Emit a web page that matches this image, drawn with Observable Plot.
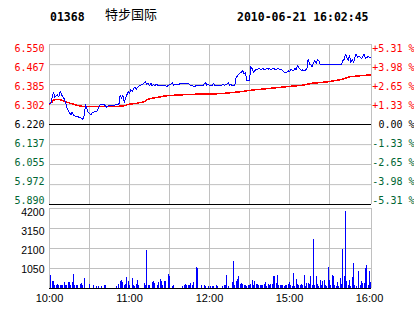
<!DOCTYPE html>
<html><head><meta charset="utf-8">
<script src="https://cdn.jsdelivr.net/npm/d3@7"></script>
<script src="https://cdn.jsdelivr.net/npm/@observablehq/plot@0.6"></script>
<style>
html,body{margin:0;padding:0;background:#fff;}
#wrap{position:relative;width:414px;height:314px;overflow:hidden;background:#fff;}
.hd{position:absolute;white-space:pre;color:#000;}
.mono{font-family:"DejaVu Sans Mono",monospace;font-weight:bold;font-size:11.5px;line-height:12px;top:11px;}
.cjk{font-family:"Noto Sans CJK SC",sans-serif;font-size:13px;line-height:14px;top:7px;left:105px;}
#p,#v{position:absolute;left:0;}
#p{top:0;}
#v{top:206px;}
</style></head><body>
<div id="wrap">
  <div class="hd mono" id="code" style="left:50px"></div>
  <div class="hd cjk" id="name"></div>
  <div class="hd mono" id="stamp" style="left:237px"></div>
  <div id="p"></div>
  <div id="v"></div>
</div>
<script>
// ---- header text ----
const stockCode = "01368";
const stockName = "特步国际";
const stampText = "2010-06-21 16:02:45";

// ---- axes ----
const prevClose = 6.220;
const priceTicks = [6.550, 6.467, 6.385, 6.302, 6.220, 6.137, 6.055, 5.972, 5.890];
const priceLabels = ["6.550","6.467","6.385","6.302","6.220","6.137","6.055","5.972","5.890"];
const pctLabels = ["+5.31 %","+3.98 %","+2.65 %","+1.33 %","0.00 %","-1.33 %","-2.65 %","-3.98 %","-5.31 %"];
const volTicks = [1050, 2100, 3150, 4200];
const volLabels = ["1050","2100","3150","4200"];
// minutes of trading since 10:00 (12:30 joins 14:30)
const timeTicks = [0, 60, 120, 180, 240];
const timeLabels = ["10:00","11:00","12:00","15:00","16:00"];
const gridMinutes = [0, 30, 60, 90, 120, 150, 180, 210];
const lastMinute = 241.5;

// ---- price (blue) ----
const priceMin = [0,1,2,3,4,6,7,8,10,11,12,13,14,16,17,18,20,21,22,23,25,26,27,28,29,31,32,33,35,36,37,38,41,43,44,47,50,52,53,54,55,56,58,59,60,61,62,63,64,65,66,68,70,72,73,74,75,76,77,78,79,80,82,84,87,88,89,91,92,93,94,97,99,102,104,106,107,109,110,113,115,117,118,119,121,122,123,124,125,128,129,130,131,133,134,135,136,137,139,140,141,143,144,145,146,147,148,149,150,151,152,153,154,155,156,157,159,160,161,163,164,165,166,168,169,170,171,173,174,175,176,178,179,180,181,183,184,185,186,188,189,190,191,193,194,195,196,197,198,199,200,201,202,203,204,212,219,220,221,222,223,224,225,226,227,228,229,230,231,232,234,235,236,237,238,239,240,241];
const price = [6.305,6.305,6.333,6.351,6.333,6.342,6.333,6.356,6.333,6.326,6.312,6.291,6.278,6.260,6.271,6.257,6.253,6.254,6.250,6.250,6.241,6.257,6.301,6.285,6.271,6.260,6.268,6.271,6.274,6.278,6.291,6.301,6.301,6.291,6.298,6.298,6.301,6.301,6.342,6.326,6.342,6.312,6.342,6.356,6.348,6.364,6.356,6.367,6.374,6.364,6.373,6.382,6.386,6.396,6.386,6.390,6.380,6.390,6.380,6.386,6.380,6.386,6.380,6.380,6.380,6.376,6.382,6.386,6.393,6.382,6.386,6.386,6.390,6.390,6.390,6.380,6.380,6.376,6.382,6.382,6.380,6.393,6.382,6.385,6.380,6.382,6.390,6.382,6.380,6.380,6.380,6.386,6.382,6.386,6.393,6.382,6.386,6.380,6.382,6.414,6.421,6.432,6.437,6.442,6.428,6.435,6.400,6.400,6.400,6.459,6.450,6.435,6.442,6.448,6.446,6.451,6.446,6.451,6.446,6.451,6.448,6.451,6.446,6.451,6.448,6.446,6.451,6.448,6.446,6.442,6.435,6.435,6.442,6.437,6.446,6.442,6.451,6.446,6.462,6.448,6.442,6.446,6.442,6.448,6.489,6.469,6.465,6.459,6.476,6.483,6.473,6.489,6.483,6.469,6.469,6.469,6.469,6.483,6.489,6.510,6.496,6.483,6.505,6.476,6.489,6.476,6.496,6.510,6.496,6.503,6.492,6.500,6.510,6.492,6.496,6.503,6.496,6.496];

// ---- average price (red) ----
const avgMin = [0,2,3,5,8,11,13,16,20,23,27,38,50,53,57,59,65,71,74,80,87,97,110,120,132,143,152,165,178,190,197,210,220,225,233,241];
const avgPrice = [6.304,6.313,6.321,6.323,6.322,6.317,6.312,6.307,6.300,6.296,6.294,6.294,6.294,6.296,6.298,6.303,6.307,6.314,6.325,6.331,6.338,6.342,6.345,6.345,6.349,6.355,6.362,6.369,6.376,6.382,6.390,6.397,6.407,6.417,6.421,6.425];

// ---- volume ----
const volMin = [1,2,3,4,5,6,7,8,9,10,11,12,13,14,15,16,17,18,19,20,21,23,24,25,26,30,33,35,37,39,41,42,50,52,53,54,55,56,57,58,59,60,62,63,64,65,66,67,71,72,73,74,75,77,78,79,81,82,83,84,85,86,87,89,90,92,93,100,101,102,103,104,105,106,107,108,110,111,114,116,117,119,121,122,123,125,126,130,131,132,133,134,137,138,139,140,141,142,143,144,145,146,147,148,149,150,151,152,153,154,155,156,157,158,159,160,161,162,163,164,165,166,167,168,169,170,171,172,173,174,175,176,177,178,179,180,181,182,183,184,185,186,187,188,189,190,191,192,193,194,195,196,197,198,199,200,201,202,203,204,205,206,207,208,209,210,211,212,213,214,215,216,217,218,219,220,221,222,223,224,225,226,227,228,229,230,232,233,234,235,236,237,238,239,240,241];
const vol = [700,350,385,175,140,210,140,175,175,140,315,175,140,315,315,175,315,735,140,140,140,210,262,140,525,210,175,105,105,105,175,175,105,210,385,437,315,175,210,595,350,140,525,175,105,210,437,175,262,140,2012,175,175,315,350,262,175,315,490,350,175,385,385,735,612,105,175,105,140,210,175,140,175,262,175,315,1120,1050,175,175,105,105,122,122,122,175,87,87,140,175,700,87,315,1435,175,385,490,647,210,262,210,175,175,122,140,175,210,437,175,350,210,227,175,140,175,140,210,315,87,210,175,227,227,647,612,262,700,140,175,175,175,122,175,140,210,315,175,87,787,87,490,210,175,175,210,175,700,122,262,262,210,612,175,2590,140,612,210,122,437,175,385,437,175,87,1120,437,175,700,612,175,122,315,87,525,227,2065,647,4060,385,175,437,122,560,1312,175,87,875,175,350,262,262,1050,1225,175,875,315];

document.getElementById("code").textContent = stockCode;
document.getElementById("name").textContent = stockName;
document.getElementById("stamp").textContent = stampText;

const GRID = "#c0c0c0", RED = "#ff0000", GREEN = "#006633", BLUE = "#0000ff";
const MONO = "DejaVu Sans Mono", SANS = "Liberation Sans";
const xDom = [0, lastMinute];
const tickColor = d => d > prevClose ? RED : d < prevClose ? GREEN : "#000";
const labelY = d => prevClose + (d - prevClose) * 0.95;

const priceData = priceMin.map((m, i) => ({m, p: price[i]}));
const avgData = avgMin.map((m, i) => ({m, p: avgPrice[i]}));
const volData = volMin.map((m, i) => ({m, v: vol[i]}));

const pPlot = Plot.plot({
  width: 414, height: 206, marginTop: 44, marginBottom: 2, marginLeft: 49, marginRight: 43,
  x: {domain: xDom, axis: null},
  y: {domain: [5.890, 6.550], axis: null},
  color: {type: "identity"},
  marks: [
    Plot.ruleX(gridMinutes.concat([lastMinute]), {stroke: GRID}),
    Plot.ruleY(priceTicks.filter((d, i) => i !== 4 && i !== 8), {stroke: GRID}),
    Plot.ruleY([prevClose, priceTicks[8]], {stroke: "#000"}),
    Plot.line(avgData, {x: "m", y: "p", stroke: RED, strokeWidth: 1.5, shapeRendering: "crispEdges"}),
    Plot.line(priceData, {x: "m", y: "p", stroke: BLUE, strokeWidth: 1, shapeRendering: "crispEdges"}),
    Plot.text(priceTicks, {x: 0, y: labelY, text: (d, i) => priceLabels[i], textAnchor: "end", dx: -5,
      fill: tickColor, fontFamily: MONO, fontSize: 10}),
    Plot.text(priceTicks, {x: lastMinute, y: labelY, text: (d, i) => pctLabels[i], textAnchor: "end", dx: 43,
      fill: tickColor, fontFamily: MONO, fontSize: 10})
  ]
});
document.getElementById("p").appendChild(pPlot);

const vPlot = Plot.plot({
  width: 414, height: 108, marginTop: 2, marginBottom: 26, marginLeft: 49, marginRight: 43,
  x: {domain: xDom, axis: null},
  y: {domain: [0, 4200], axis: null},
  marks: [
    Plot.ruleX(gridMinutes.concat([lastMinute]), {stroke: GRID}),
    Plot.ruleY(volTicks, {stroke: GRID}),
    Plot.ruleX(volData, {x: "m", y1: 0, y2: "v", stroke: BLUE, strokeWidth: 1, shapeRendering: "crispEdges"}),
    Plot.ruleY([0], {stroke: "#000"}),
    Plot.text(volTicks, {x: 0, y: d => d * 0.95, text: (d, i) => volLabels[i], textAnchor: "end", dx: -5,
      fill: "#000", fontFamily: SANS, fontSize: 10.5}),
    Plot.text(timeTicks, {x: d => d, y: 0, dy: 10, text: (d, i) => timeLabels[i],
      fill: "#000", fontFamily: SANS, fontSize: 11})
  ]
});
document.getElementById("v").appendChild(vPlot);
</script>
</body></html>
